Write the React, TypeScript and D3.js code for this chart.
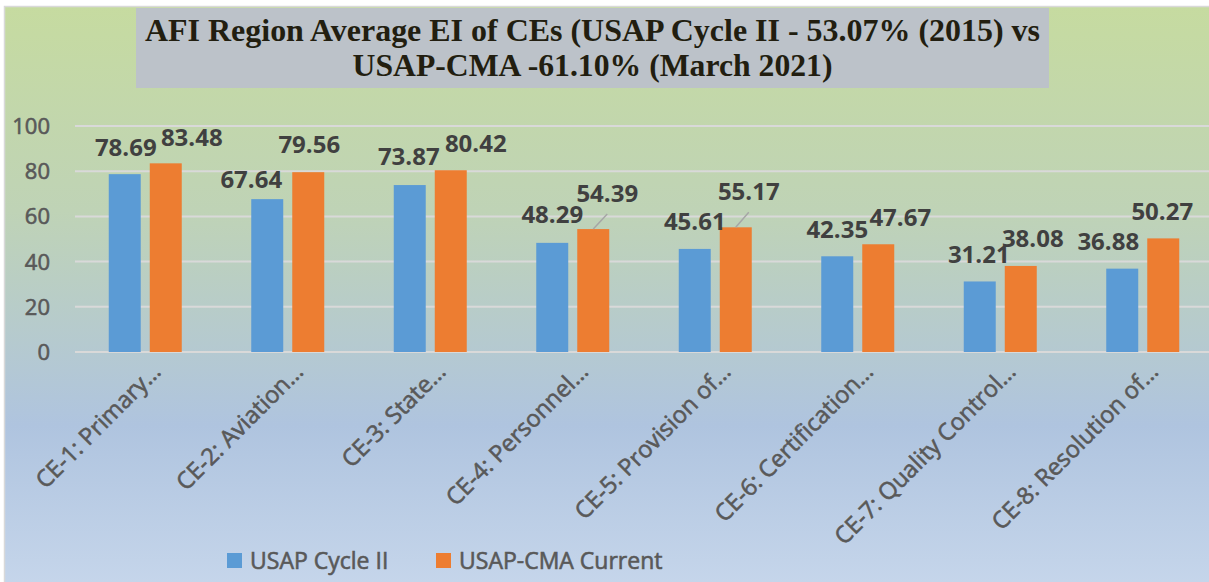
import * as d3 from 'd3';

const categories = [
  'CE-1: Primary…',
  'CE-2: Aviation…',
  'CE-3: State…',
  'CE-4: Personnel…',
  'CE-5: Provision of…',
  'CE-6: Certification…',
  'CE-7: Quality Control…',
  'CE-8: Resolution of…',
];
const seriesNames = ['USAP Cycle II', 'USAP-CMA Current'];
const cycleII = [78.69, 67.64, 73.87, 48.29, 45.61, 42.35, 31.21, 36.88];
const cmaCurrent = [83.48, 79.56, 80.42, 54.39, 55.17, 47.67, 38.08, 50.27];
const yTicks = [0, 20, 40, 60, 80, 100];
const titleLines = [
  'AFI Region Average EI of CEs (USAP Cycle II - 53.07% (2015) vs',
  'USAP-CMA -61.10% (March 2021)',
];

// label placement tweaks (Excel moved some labels to avoid overlaps)
const labelShift = [
  [[1, -18], [-16, -11], [-1, -20], [0, -20], [0, -19], [0, -18], [-1, -18], [-14, -19]],
  [[26, -17], [1, -19], [25, -18], [14, -27], [13, -27], [22, -18], [12, -19], [-1, -18]],
];
const hasLeader = [[], [3, 4]];

const colors = ['#5b9bd5', '#ed7d31'];
const W = 1209;
const H = 582;

export default function App() {
  const values = [cycleII, cmaCurrent];
  const y = d3.scaleLinear().domain([0, 100]).range([352, 126]);
  const x0 = d3.scaleBand<string>().domain(categories).range([74, 1214]).padding(0);
  const x1 = d3
    .scaleBand<string>()
    .domain(seriesNames)
    .range([-36.5, 36.5])
    .paddingInner(0.22)
    .paddingOuter(0);

  const font = '"Open Sans", Calibri, sans-serif';
  // Excel's semibold grey text
  const semi = { fontFamily: font, fill: '#595959', stroke: '#595959', strokeWidth: 0.6 };

  return (
    <svg
      width={W}
      height={H}
      style={{ position: 'absolute', left: 0, top: 0, display: 'block' }}
    >
      <defs>
        <linearGradient id="bg" x1="0" y1="0" x2="0" y2="1">
          <stop offset="0%" stopColor="#c6dba0" />
          <stop offset="35%" stopColor="#bfd3b6" />
          <stop offset="72%" stopColor="#afc4df" />
          <stop offset="100%" stopColor="#c6d6eb" />
        </linearGradient>
      </defs>
      <rect x={0} y={0} width={W} height={H} fill="#ffffff" />
      <rect x={4.5} y={6.5} width={W + 10} height={H} fill="url(#bg)" stroke="#d9d9d9" strokeWidth={1.5} />

      {/* title */}
      <rect x={136} y={8} width={913} height={80} fill="#bcc2c9" />
      {titleLines.map((t, i) => (
        <text
          key={i}
          x={592.5}
          y={41 + i * 35}
          textAnchor="middle"
          fontFamily='"Liberation Serif", "Times New Roman", serif'
          fontWeight="bold"
          fontSize={32}
          textLength={[895, 480][i]}
          lengthAdjust="spacingAndGlyphs"
          fill="#221e10"
        >
          {t}
        </text>
      ))}

      {/* gridlines and y axis */}
      {yTicks.map((t) => (
        <g key={t}>
          <line x1={75} x2={W} y1={y(t)} y2={y(t)} stroke="#d9d9d9" strokeWidth={2} />
          <text x={50} y={y(t) + 8} textAnchor="end" fontSize={22} {...semi}>
            {t}
          </text>
        </g>
      ))}

      {/* bars */}
      {categories.map((c, i) => {
        const cx = x0(c)! + x0.bandwidth() / 2;
        return (
          <g key={c}>
            {seriesNames.map((s, k) => (
              <rect
                key={s}
                x={cx + x1(s)!}
                y={y(values[k][i])}
                width={x1.bandwidth()}
                height={y(0) - y(values[k][i])}
                fill={colors[k]}
              />
            ))}
          </g>
        );
      })}

      {/* data labels */}
      {categories.map((c, i) => {
        const cx = x0(c)! + x0.bandwidth() / 2;
        return seriesNames.map((s, k) => {
          const bx = cx + x1(s)! + x1.bandwidth() / 2;
          const by = y(values[k][i]);
          const [dx, dy] = labelShift[k][i];
          const lx = bx + dx;
          const ly = by + dy;
          return (
            <g key={c + s}>
              {hasLeader[k].includes(i) && (
                <line x1={bx} y1={by} x2={lx} y2={ly + 12} stroke="#a6a6a6" strokeWidth={1.5} />
              )}
              <text
                x={lx}
                y={ly}
                textAnchor="middle"
                fontFamily={font}
                fontWeight="bold"
                fontSize={24}
                fill="#404040"
              >
                {values[k][i].toFixed(2)}
              </text>
            </g>
          );
        });
      })}

      {/* category labels */}
      {categories.map((c) => {
        const cx = x0(c)! + x0.bandwidth() / 2;
        return (
          <text
            key={c}
            transform={`translate(${cx + 17},${373}) rotate(-45)`}
            textAnchor="end"
            fontSize={23.5}
            {...semi}
          >
            {c}
          </text>
        );
      })}

      {/* legend */}
      {seriesNames.map((s, k) => {
        const lx = [227, 436][k];
        return (
          <g key={s}>
            <rect x={lx} y={553} width={15} height={15} fill={colors[k]} />
            <text x={lx + 23} y={569} fontSize={23} {...semi}>
              {s}
            </text>
          </g>
        );
      })}
    </svg>
  );
}
